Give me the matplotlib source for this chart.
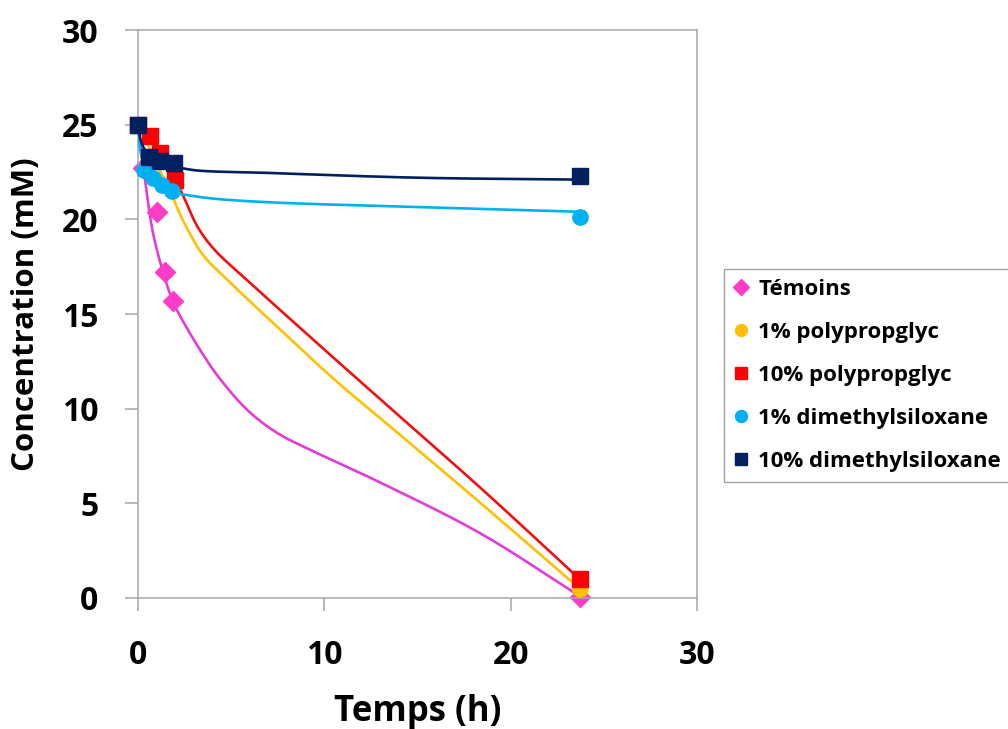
import numpy as np
import matplotlib

matplotlib.use("Agg")
import matplotlib.pyplot as plt
from matplotlib.lines import Line2D

# measured points (markers): time (h), concentration (mM)
temoins_t = [0.25, 1.0, 1.45, 1.86, 23.7]
temoins_c = [22.7, 20.4, 17.2, 15.7, 0.05]
pp1_t = [0, 23.7]
pp1_c = [25.0, 0.5]
pp10_t = [0, 0.64, 1.18, 1.98, 23.7]
pp10_c = [25.0, 24.4, 23.5, 22.1, 1.0]
dms1_t = [0.3, 0.8, 1.3, 1.8, 23.7]
dms1_c = [22.6, 22.2, 21.8, 21.5, 20.1]
dms10_t = [0.6, 1.2, 1.95, 0, 23.7]
dms10_c = [23.3, 23.1, 23.0, 25.0, 22.3]

# fitted curves (lines)
temoins_fit_t = [0, 0.4, 0.8, 1.35, 1.9, 2.6, 3.4, 4.3, 5.9, 7.5, 9.3, 13.0, 18.4, 23.7]
temoins_fit_c = [25.0, 21.9, 19.3, 17.2, 15.6, 14.3, 13.0, 11.7, 9.9, 8.7, 7.8, 6.1, 3.4, 0.1]
pp1_fit_t = [0, 0.5, 1.0, 1.7, 2.15, 2.7, 3.5, 4.8, 7.5, 10.7, 13.0, 18.4, 23.7]
pp1_fit_c = [25.0, 24.0, 22.9, 21.6, 20.5, 19.4, 18.1, 16.8, 14.3, 11.4, 9.5, 5.0, 0.5]
pp10_fit_t = [0, 0.6, 1.2, 2.0, 2.4, 3.2, 4.1, 5.9, 9.0, 13.0, 18.4, 23.7]
pp10_fit_c = [25.0, 24.3, 23.4, 22.1, 21.3, 19.6, 18.4, 16.75, 14.0, 10.5, 5.8, 1.0]
dms1_fit_t = [0, 0.15, 0.4, 0.8, 1.3, 1.8, 2.5, 4.0, 7.1, 15.0, 23.7]
dms1_fit_c = [25.0, 23.5, 22.7, 22.2, 21.8, 21.45, 21.3, 21.1, 20.9, 20.65, 20.4]
dms10_fit_t = [0, 0.2, 0.6, 1.2, 2.0, 3.0, 7.1, 15.0, 23.7]
dms10_fit_c = [25.0, 24.0, 23.4, 23.05, 22.8, 22.6, 22.45, 22.2, 22.1]

labels = ["Témoins", "1% polypropglyc", "10% polypropglyc",
          "1% dimethylsiloxane", "10% dimethylsiloxane"]
points = [(temoins_t, temoins_c), (pp1_t, pp1_c), (pp10_t, pp10_c),
          (dms1_t, dms1_c), (dms10_t, dms10_c)]
fits = [(temoins_fit_t, temoins_fit_c), (pp1_fit_t, pp1_fit_c),
        (pp10_fit_t, pp10_fit_c), (dms1_fit_t, dms1_fit_c),
        (dms10_fit_t, dms10_fit_c)]
marker_colors = ["#FF3CC8", "#FFC000", "#FF0000", "#00B0F0", "#002060"]
line_colors = ["#E33CD8", "#FFC000", "#F01010", "#00B0F0", "#002060"]
markers = ["D", "o", "s", "o", "s"]
sizes = [10, 11, 11, 11, 11]


def catmull(x, y, n=25):
    # centripetal Catmull-Rom through the curve points
    p = np.column_stack([x, y]).astype(float)
    p = np.vstack([2 * p[0] - p[1], p, 2 * p[-1] - p[-2]])
    out = []
    for i in range(1, len(p) - 2):
        p0, p1, p2, p3 = p[i - 1], p[i], p[i + 1], p[i + 2]
        t0 = 0.0
        t1 = t0 + np.linalg.norm(p1 - p0) ** 0.5
        t2 = t1 + np.linalg.norm(p2 - p1) ** 0.5
        t3 = t2 + np.linalg.norm(p3 - p2) ** 0.5
        t = np.linspace(t1, t2, n)[:, None]
        a1 = (t1 - t) / (t1 - t0) * p0 + (t - t0) / (t1 - t0) * p1
        a2 = (t2 - t) / (t2 - t1) * p1 + (t - t1) / (t2 - t1) * p2
        a3 = (t3 - t) / (t3 - t2) * p2 + (t - t2) / (t3 - t2) * p3
        b1 = (t2 - t) / (t2 - t0) * a1 + (t - t0) / (t2 - t0) * a2
        b2 = (t3 - t) / (t3 - t1) * a2 + (t - t1) / (t3 - t1) * a3
        out.append((t2 - t) / (t2 - t1) * b1 + (t - t1) / (t2 - t1) * b2)
    c = np.vstack(out)
    return c[:, 0], c[:, 1]


plt.rcParams["font.family"] = ["Open Sans", "DejaVu Sans"]
plt.rcParams["font.weight"] = "bold"

fig = plt.figure(figsize=(10.08, 7.29), dpi=100)
ax = fig.add_axes([0.1369, 0.1797, 0.5546, 0.7791])

for i in range(len(labels)):
    fx, fy = catmull(*fits[i])
    ax.plot(fx, fy, color=line_colors[i], lw=1.9, zorder=2 + i)
    ax.plot(points[i][0], points[i][1], linestyle="none", marker=markers[i],
            markersize=sizes[i], color=marker_colors[i], zorder=2.5 + i,
            clip_on=False)

ax.set_xlim(0, 30)
ax.set_ylim(0, 30)
ax.set_xticks([0, 10, 20, 30])
ax.set_yticks([0, 5, 10, 15, 20, 25, 30])
ax.tick_params(labelsize=23, colors="#A6A6A6", labelcolor="black",
               length=9.5, width=1.1)
ax.tick_params(axis="y", pad=19)
ax.tick_params(axis="x", pad=20)
for tl in ax.get_xticklabels() + ax.get_yticklabels():
    tl.set_fontweight("bold")
for s in ax.spines.values():
    s.set_color("#A6A6A6")
    s.set_linewidth(1.1)

ax.set_xlabel("Temps (h)", fontsize=25, fontweight="bold", labelpad=16)
ax.set_ylabel("Concentration (mM)", fontsize=22.5, fontweight="bold", labelpad=15)

handles = [Line2D([], [], linestyle="none", marker=markers[i], markersize=sizes[i] * 0.78,
                  color=marker_colors[i]) for i in range(len(labels))]
leg = fig.legend(handles, labels, loc="upper left",
                 bbox_to_anchor=(724 / 1008, 1 - 269 / 729),
                 bbox_transform=fig.transFigure,
                 prop={"weight": "bold", "size": 16}, frameon=True, fancybox=False,
                 handlelength=0.6, handletextpad=0.5, labelspacing=0.99,
                 borderpad=0.45, borderaxespad=0)
leg.get_frame().set_edgecolor("#8C8C8C")
leg.get_frame().set_linewidth(1.0)

fig.savefig("out.png", dpi=100)
